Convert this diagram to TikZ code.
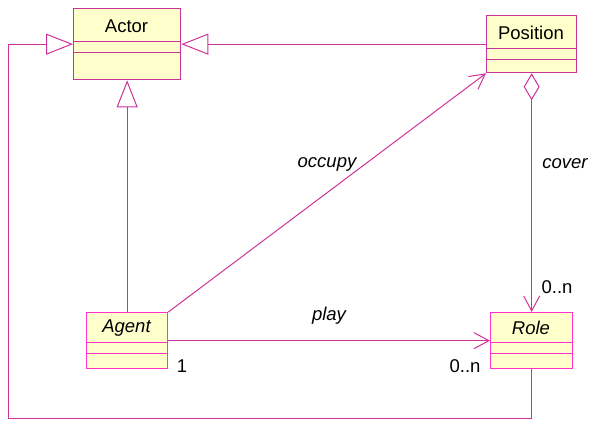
\documentclass[tikz,border=0pt]{standalone}
\usepackage{fontspec}
\setmainfont{Liberation Sans}
\usetikzlibrary{arrows.meta}
\definecolor{lnc}{RGB}{204,51,153}
\definecolor{brd}{RGB}{255,51,204}
\definecolor{bfill}{RGB}{255,255,204}
\begin{document}
\begin{tikzpicture}[x=1pt,y=-1pt,
  umlbox/.style={draw=#1,line width=1.3pt,fill=bfill,anchor=north west,inner sep=0pt},
  ttl/.style={font=\fontsize{18.5}{22}\selectfont},
  ttli/.style={font=\fontsize{18.5}{22}\selectfont\itshape},
  lbl/.style={font=\fontsize{18.5}{22}\selectfont\itshape},
  mult/.style={font=\fontsize{18.5}{22}\selectfont},
  conn/.style={draw=lnc,line width=1pt},
  gen/.style={conn,-{Triangle[open,length=27pt,width=21pt,line width=1pt]}},
  assoc/.style={conn,-{Straight Barb[length=15pt,width=16pt,line width=1pt]}},
  aggr/.style={conn,{Diamond[open,length=27pt,width=16pt,line width=1pt]}-{Straight Barb[length=15pt,width=16pt,line width=1pt]}}
]
\useasboundingbox (0,0) rectangle (590,421);
% boxes
\node[umlbox=lnc,minimum width=107pt,minimum height=71pt] (actor) at (73,8) {};
\draw[lnc,line width=1pt] (73,41) -- (180,41) (73,52) -- (180,52);
\node[ttl] (actort) at (126.5,26) {Actor};

\node[umlbox=lnc,minimum width=90pt,minimum height=57pt] (position) at (486,15) {};
\draw[lnc,line width=1pt] (486,48) -- (576,48) (486,59) -- (576,59);
\node[ttl] (positiont) at (531,33) {Position};

\node[umlbox=brd,minimum width=81pt,minimum height=56pt] (agent) at (86,312) {};
\draw[brd,line width=1pt] (86,342) -- (167,342) (86,353) -- (167,353);
\node[ttli] (agentt) at (126.5,328) {Agent};

\node[umlbox=brd,minimum width=82pt,minimum height=56pt] (role) at (490,312) {};
\draw[brd,line width=1pt] (490,342) -- (572,342) (490,353) -- (572,353);
\node[ttli] (rolet) at (531,328) {Role};

% connectors
\draw[gen] (agent.north) -- (actor.south);
\draw[gen] (position.west) -- (actor.east);
\coordinate (loopc) at (8,418);
\draw[gen] (role.south) |- (loopc) |- (actor.west);
\draw[assoc] (agent.north east) -- (position.south west);
\draw[aggr] (position.south) -- (role.north);
\draw[assoc] (agent.east) -- (role.west);

% labels
\node[lbl] (occupy) at (327,164) {occupy};
\node[lbl] (cover) at (565,164) {cover};
\node[lbl] (play) at (329,316) {play};
\node[mult] (m1) at (557,287) {0..n};
\node[mult] (m2) at (182,366) {1};
\node[mult] (m3) at (465,366) {0..n};
\end{tikzpicture}
\end{document}
